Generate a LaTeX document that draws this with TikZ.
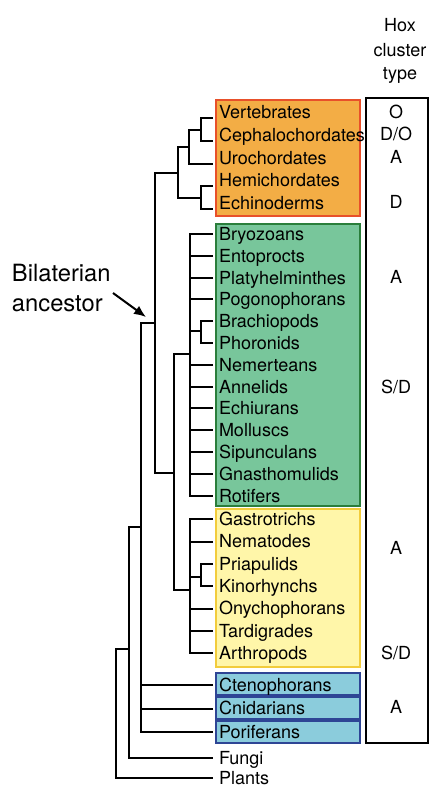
\documentclass[tikz,border=0pt]{standalone}
\usepackage{fontspec}
\setmainfont{TeX Gyre Heros}
\usetikzlibrary{arrows.meta}

\definecolor{deutfill}{RGB}{243,173,69}
\definecolor{deutline}{RGB}{232,80,42}
\definecolor{lophfill}{RGB}{120,198,155}
\definecolor{lophline}{RGB}{42,126,59}
\definecolor{ecdfill}{RGB}{255,246,169}
\definecolor{ecdline}{RGB}{242,204,60}
\definecolor{basalfill}{RGB}{139,204,220}
\definecolor{basalline}{RGB}{46,69,149}

\tikzset{every picture/.style={line width=1.5pt}}

\begin{document}
\begin{tikzpicture}[x=0.75pt,y=0.75pt,yscale=-1,xscale=1,
  taxon/.style={anchor=west,inner xsep=3.75pt,inner ysep=0pt,text height=9.7pt,text depth=0pt,font=\fontsize{13.5}{16}\selectfont},
  hoxtype/.style={inner sep=0pt,text height=9.7pt,text depth=0pt,font=\fontsize{13.5}{16}\selectfont},
  headline/.style={anchor=base,inner sep=0pt,font=\fontsize{13.5}{16}\selectfont},
  bigline/.style={anchor=base west,inner sep=0pt,font=\fontsize{17.8}{21}\selectfont}]
\useasboundingbox (0,0) rectangle (432,787);

% Coloured groups
\draw [draw=deutline, fill=deutfill] (216,100) rectangle (360,216);
\draw [draw=lophline, fill=lophfill] (216,224) rectangle (360,506);
\draw [draw=ecdline, fill=ecdfill] (216,509) rectangle (360,667);
\draw [draw=basalline, fill=basalfill] (216,673) rectangle (360,695);
\draw [draw=basalline, fill=basalfill] (216,697) rectangle (360,719);
\draw [draw=basalline, fill=basalfill] (216,721) rectangle (360,743);

% Hox column
\draw (366,98) rectangle (428,743);
\node[headline] (hox) at (400,32) {Hox};
\node[headline] (clus) at (400,57) {cluster};
\node[headline] (typ) at (400,80) {type};

\node[hoxtype] (h1) at (396,112) {O};
\node[hoxtype] (h2) at (396,134) {D/O};
\node[hoxtype] (h3) at (396,157) {A};
\node[hoxtype] (h4) at (396,202) {D};
\node[hoxtype] (h5) at (396,277) {A};
\node[hoxtype] (h6) at (396,387) {S/D};
\node[hoxtype] (h7) at (396,548) {A};
\node[hoxtype] (h8) at (396,653) {S/D};
\node[hoxtype] (h9) at (396,707) {A};

% Deuterostomes
\node[taxon] (vert) at (213,112) {Vertebrates};
\node[taxon] (ceph) at (213,135) {Cephalochordates};
\node[taxon] (uro) at (213,158) {Urochordates};
\node[taxon] (hemi) at (213,180) {Hemichordates};
\node[taxon] (echi) at (213,203) {Echinoderms};

% Lophotrochozoans
\node[taxon] (bryo) at (213,234) {Bryozoans};
\node[taxon] (ento) at (213,256) {Entoprocts};
\node[taxon] (platy) at (213,277.6) {Platyhelminthes};
\node[taxon] (pogo) at (213,299.4) {Pogonophorans};
\node[taxon] (brach) at (213,321.2) {Brachiopods};
\node[taxon] (phor) at (213,343) {Phoronids};
\node[taxon] (nemer) at (213,365) {Nemerteans};
\node[taxon] (anne) at (213,386.6) {Annelids};
\node[taxon] (echiu) at (213,408.4) {Echiurans};
\node[taxon] (moll) at (213,430.2) {Molluscs};
\node[taxon] (sipu) at (213,452) {Sipunculans};
\node[taxon] (gnas) at (213,474) {Gnasthomulids};
\node[taxon] (roti) at (213,495.6) {Rotifers};

% Ecdysozoans
\node[taxon] (gast) at (213,519) {Gastrotrichs};
\node[taxon] (nema) at (213,541.5) {Nematodes};
\node[taxon] (pria) at (213,564) {Priapulids};
\node[taxon] (kino) at (213,586) {Kinorhynchs};
\node[taxon] (onych) at (213,608.5) {Onychophorans};
\node[taxon] (tardi) at (213,631) {Tardigrades};
\node[taxon] (arth) at (213,653) {Arthropods};

% Basal animals and outgroups
\node[taxon] (cteno) at (213,685) {Ctenophorans};
\node[taxon] (cnid) at (213,708.5) {Cnidarians};
\node[taxon] (pori) at (213,732) {Poriferans};
\node[taxon] (fungi) at (213,758) {Fungi};
\node[taxon] (plants) at (213,778) {Plants};

% Branching points
\coordinate (vc) at (201,130);
\coordinate (chord) at (189,147);
\coordinate (he) at (201,198);
\coordinate (deut) at (178,173);
\coordinate (bp) at (201,331);
\coordinate (loph) at (190,354);
\coordinate (pk) at (201,577);
\coordinate (ecd) at (190,590);
\coordinate (prot) at (174,473);
\coordinate (bila) at (155,323);
\coordinate (meta) at (141,527);
\coordinate (opis) at (129,649);
\coordinate (root) at (116,649);

% Tree
\draw (vert.base west) -| (vc) |- (ceph.base west);
\draw (vc) -| (chord) |- (uro.base west);
\draw (hemi.base west) -| (he) |- (echi.base west);
\draw (chord) -| (deut) |- (he);

\draw (bryo.west) -| (loph) |- (roti.west);
\foreach \t in {ento,platy,pogo,nemer,anne,echiu,moll,sipu,gnas}
  \draw (\t.west) -- (\t.west -| loph);
\draw (brach.west) -| (bp) |- (phor.west);
\draw (bp) -- (bp -| loph);

\draw (gast.west) -| (ecd) |- (arth.west);
\foreach \t in {nema,onych,tardi}
  \draw (\t.west) -- (\t.west -| ecd);
\draw (pria.west) -| (pk) |- (kino.west);
\draw (pk) -- (pk -| ecd);

\draw (loph) -| (prot) |- (ecd);
\draw (deut) -| (bila) |- (prot);
\draw (bila) -| (meta) |- (pori.west);
\foreach \t in {cteno,cnid}
  \draw (\t.west) -- (\t.west -| meta);
\draw (meta) -| (opis) |- (fungi.west);
\draw (opis) -| (root) |- (plants.west);

% Label and arrow
\node[bigline] (bil) at (11,281.5) {Bilaterian};
\node[bigline] (anc) at (11,311) {ancestor};
\coordinate (arrtail) at (113,293);
\coordinate (arrtip) at (146,317);
\draw [-{Latex[length=9pt,width=7.5pt]}] (arrtail) -- (arrtip);

\end{tikzpicture}
\end{document}
